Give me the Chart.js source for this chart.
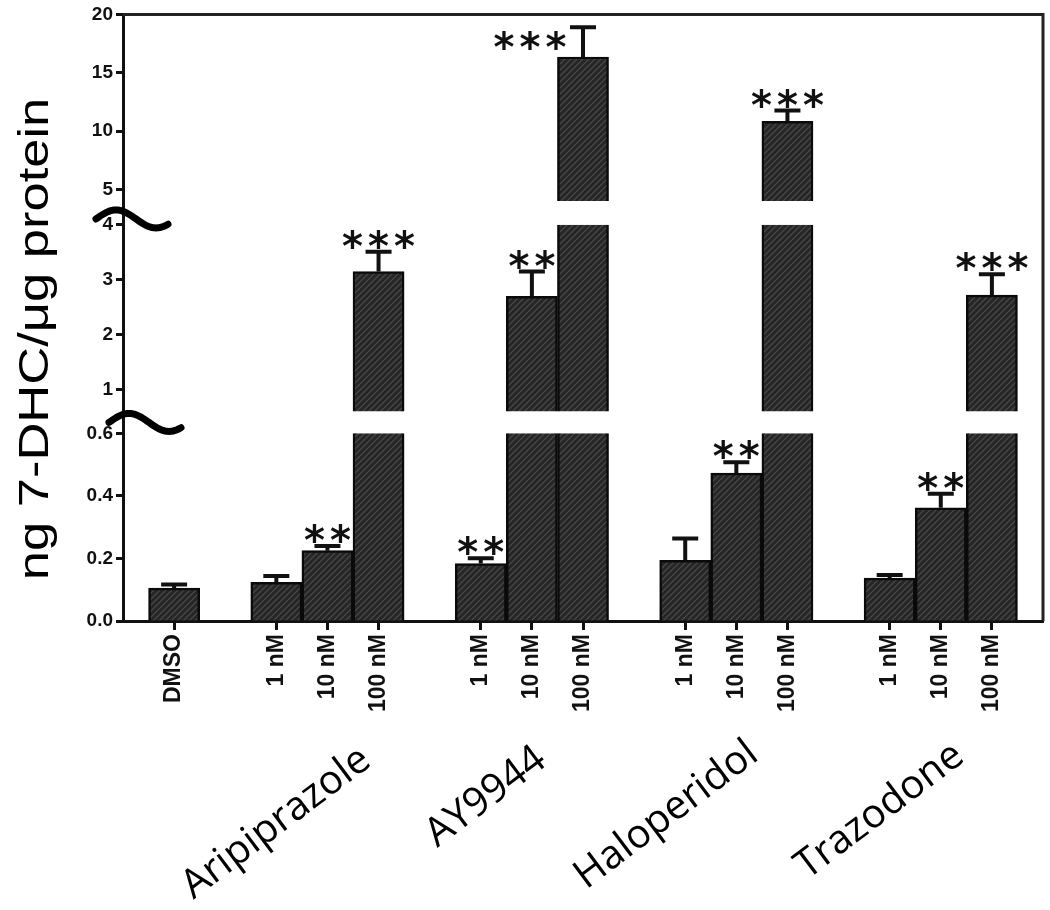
<!DOCTYPE html>
<html>
<head>
<meta charset="utf-8">
<script src="https://cdn.jsdelivr.net/npm/chart.js@4.4.1/dist/chart.umd.min.js"></script>
<style>
  html, body { margin: 0; padding: 0; background: #fff; }
  #wrap { position: relative; width: 1050px; height: 910px; }
</style>
</head>
<body>
<div id="wrap"><canvas id="dhcChart" width="1050" height="910"></canvas></div>
<script>
// categories along the x axis (blank slots separate the drug groups)
const categories = ['', 'DMSO', '', '1 nM', '10 nM', '100 nM', '', '1 nM', '10 nM', '100 nM', '', '1 nM', '10 nM', '100 nM', '', '1 nM', '10 nM', '100 nM', ''];
// ng 7-DHC / ug protein, mean and SEM (upper whisker only)
const meanValues = [null, 0.105, null, 0.124, 0.225, 3.15, null, 0.184, 2.70, 16.35, null, 0.194, 0.473, 10.83, null, 0.137, 0.362, 2.72, null];
const errorValues = [null, 0.012, null, 0.02, 0.015, 0.36, null, 0.017, 0.45, 2.55, null, 0.07, 0.035, 0.93, null, 0.01, 0.045, 0.38, null];
const significance = ['', '', '', '', '**', '***', '', '**', '**', '***', '', '', '**', '***', '', '', '**', '***', ''];
const drugNames = ['Aripiprazole', 'AY9944', 'Haloperidol', 'Trazodone'];
const drugCenterIndex = [4, 8, 12, 16];
const bottomTicks = [0, 0.2, 0.4, 0.6];
const middleTicks = [1, 2, 3, 4];
const topTicks = [5, 10, 15, 20];
const yTitle = 'ng 7-DHC/\u03BCg protein';

// layout only (not data)
const drugLabelNudge = [[-51, 823], [-46, 797], [-70, 815], [-61, 811]];
const starNudge = { 9: [-53, 26] };

const ink = '#111';

function makeHatch() {
	const c = document.createElement('canvas');
	c.width = 6;
	c.height = 6;
	const g = c.getContext('2d');
	g.fillStyle = '#262626';
	g.fillRect(0, 0, 6, 6);
	g.strokeStyle = '#4e4e4e';
	g.lineWidth = 1.1;
	g.beginPath();
	g.moveTo(0, 6); g.lineTo(6, 0);
	g.moveTo(-1, 1); g.lineTo(1, -1);
	g.moveTo(5, 7); g.lineTo(7, 5);
	g.stroke();
	return g.createPattern(c, 'repeat');
}

function segmentAxis(min, max, weight, tickValues, decimals) {
	return {
		type: 'linear',
		position: 'left',
		stack: 'left',
		stackWeight: weight,
		min: min,
		max: max,
		afterBuildTicks: (s) => { s.ticks = tickValues.map((v) => ({ value: v })); },
		afterFit: (s) => { s.width = 123; },
		grid: { drawOnChartArea: false, tickLength: 7, tickWidth: 3, tickColor: ink },
		border: { color: ink, width: 3 },
		ticks: {
			padding: 3,
			color: ink,
			font: { family: 'Liberation Sans, Arial, sans-serif', size: 19, weight: 'bold' },
			callback: (v) => (decimals ? Number(v).toFixed(decimals) : v),
		},
	};
}

function spacerAxis(weight) {
	return {
		type: 'linear',
		position: 'left',
		stack: 'left',
		stackWeight: weight,
		min: 0,
		max: 1,
		afterFit: (s) => { s.width = 123; },
		grid: { display: false },
		ticks: { display: false },
		border: { color: ink, width: 3 },
	};
}

function segmentFor(chart, v) {
	if (v >= 4) return chart.scales.yTop;
	if (v >= 0.6) return chart.scales.yMid;
	return chart.scales.yBot;
}

// keep each copy of the bars inside its own axis segment
const segmentClip = {
	id: 'segmentClip',
	beforeDatasetDraw(chart, args) {
		const s = chart.scales[args.meta.yAxisID];
		const ctx = chart.ctx;
		ctx.save();
		ctx.beginPath();
		ctx.rect(chart.chartArea.left, s.top, chart.chartArea.right - chart.chartArea.left, s.bottom - s.top);
		ctx.clip();
	},
	afterDatasetDraw(chart) {
		chart.ctx.restore();
	},
};

const decorations = {
	id: 'decorations',
	afterDatasetsDraw(chart) {
		const ctx = chart.ctx;
		const x = chart.scales.x;
		const area = chart.chartArea;

		// error bars
		ctx.save();
		ctx.strokeStyle = ink;
		ctx.lineWidth = 4;
		meanValues.forEach((m, i) => {
			if (m === null) return;
			const s = segmentFor(chart, m);
			const px = x.getPixelForValue(i);
			const y0 = s.getPixelForValue(m);
			const y1 = s.getPixelForValue(m + errorValues[i]);
			ctx.beginPath();
			ctx.moveTo(px, y0);
			ctx.lineTo(px, y1);
			ctx.moveTo(px - 13, y1);
			ctx.lineTo(px + 13, y1);
			ctx.stroke();
		});
		ctx.restore();

		// significance stars
		ctx.save();
		ctx.fillStyle = ink;
		ctx.font = 'bold 40px "DejaVu Sans", sans-serif';
		ctx.textAlign = 'center';
		ctx.textBaseline = 'alphabetic';
		significance.forEach((stars, i) => {
			if (!stars) return;
			const m = meanValues[i];
			const s = segmentFor(chart, m);
			const nudge = starNudge[i] || [0, 0];
			const cx = x.getPixelForValue(i) + nudge[0];
			const cy = s.getPixelForValue(m + errorValues[i]) - 16 + nudge[1];
			for (let k = 0; k < stars.length; k++) {
				const sx = cx + (k - (stars.length - 1) / 2) * 26;
				ctx.fillText('*', sx, cy + 24);
			}
		});
		ctx.restore();

		// frame: top and right lines
		ctx.save();
		ctx.strokeStyle = '#222';
		ctx.lineWidth = 3;
		ctx.beginPath();
		ctx.moveTo(area.left, area.top);
		ctx.lineTo(area.right, area.top);
		ctx.lineTo(area.right, area.bottom);
		ctx.stroke();
		ctx.restore();
	},
	afterDraw(chart) {
		const ctx = chart.ctx;
		const x = chart.scales.x;

		// axis break squiggles
		const breaks = [
			[chart.scales.gapA, 6],
			[chart.scales.gapB, 0],
		];
		ctx.save();
		ctx.strokeStyle = '#000';
		ctx.lineWidth = 7;
		ctx.lineCap = 'round';
		breaks.forEach(([s, dy], n) => {
			const yc = (s.top + s.bottom) / 2 + dy;
			const x0 = chart.chartArea.left - (n === 0 ? 27 : 14);
			ctx.beginPath();
			for (let t = 0; t <= 72; t += 2) {
				const yy = yc - 9 * Math.sin((2 * Math.PI * t) / 80);
				if (t === 0) ctx.moveTo(x0, yy);
				else ctx.lineTo(x0 + t, yy);
			}
			ctx.stroke();
		});
		ctx.restore();

		// y axis title
		ctx.save();
		ctx.fillStyle = '#000';
		ctx.translate(36, 339);
		ctx.rotate(-Math.PI / 2);
		ctx.scale(1.25, 1);
		ctx.font = '42px "Liberation Sans", Arial, sans-serif';
		ctx.textAlign = 'center';
		ctx.textBaseline = 'middle';
		ctx.fillText(yTitle, 0, 0);
		ctx.restore();

		// drug group labels
		ctx.save();
		ctx.fillStyle = '#000';
		ctx.font = '40px "Open Sans", sans-serif';
		ctx.textAlign = 'center';
		ctx.textBaseline = 'middle';
		drugNames.forEach((name, g) => {
			const px = x.getPixelForValue(drugCenterIndex[g]) + drugLabelNudge[g][0];
			ctx.save();
			ctx.translate(px, drugLabelNudge[g][1]);
			ctx.rotate(-37 * Math.PI / 180);
			ctx.fillText(name, 0, 0);
			ctx.restore();
		});
		ctx.restore();
	},
};

const hatch = makeHatch();

const datasets = ['yTop', 'yMid', 'yBot'].map((id) => ({
	data: meanValues,
	yAxisID: id,
	xAxisID: 'x',
	grouped: false,
	backgroundColor: hatch,
	borderColor: '#0a0a0a',
	borderWidth: 2.5,
	borderSkipped: 'start',
	barPercentage: 1,
	categoryPercentage: 1,
}));

const config = {
	type: 'bar',
	data: { labels: categories, datasets: datasets },
	options: {
		responsive: false,
		maintainAspectRatio: false,
		animation: false,
		layout: { padding: { left: 0, right: 7, top: 10, bottom: 0 } },
		plugins: { legend: { display: false }, tooltip: { enabled: false } },
		scales: {
			x: {
				type: 'category',
				offset: false,
				afterFit: (s) => {
					s.height = 289;
					// rotated labels would otherwise push the right edge inwards
					s.paddingLeft = 0;
					s.paddingRight = 0;
				},
				grid: {
					offset: false,
					drawOnChartArea: false,
					tickLength: 9,
					tickWidth: 3,
					tickColor: (c) => (c.tick && c.tick.label ? ink : 'rgba(0,0,0,0)'),
				},
				border: { color: ink, width: 3 },
				ticks: {
					autoSkip: false,
					minRotation: 90,
					maxRotation: 90,
					padding: 4,
					color: ink,
					font: { family: 'Liberation Sans, Arial, sans-serif', size: 23, weight: 'bold' },
				},
			},
			// stacked scales are placed bottom-up in definition order
			yBot: segmentAxis(0, 0.6, 189, bottomTicks, 1),
			gapB: spacerAxis(22),
			yMid: segmentAxis(0.6, 4, 188, middleTicks, 0),
			gapA: spacerAxis(24),
			yTop: segmentAxis(4, 20, 188, topTicks, 0),
		},
	},
	plugins: [segmentClip, decorations],
};

window.dhcChartObj = new Chart(document.getElementById('dhcChart'), config);
</script>
</body>
</html>
